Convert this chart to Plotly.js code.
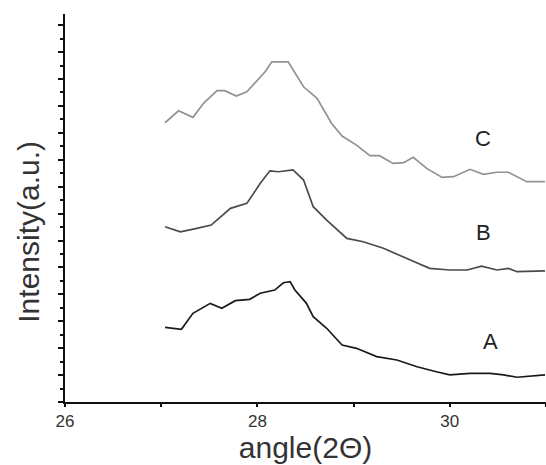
<!DOCTYPE html>
<html>
<head>
<meta charset="utf-8">
<script src="https://cdn.plot.ly/plotly-3.0.1.min.js"></script>
<style>html,body{margin:0;padding:0;background:#fff;}#chart{width:546px;height:465px;}</style>
</head>
<body>
<div id="chart"></div>
<script>
const xC = [27.04,27.18,27.33,27.44,27.58,27.66,27.78,27.89,28.08,28.15,28.32,28.48,28.62,28.77,28.88,29.03,29.17,29.27,29.41,29.52,29.62,29.76,29.92,30.04,30.21,30.35,30.49,30.61,30.80,30.99];
const yC = [20.75,21.64,21.15,22.19,23.13,23.13,22.73,23.05,24.54,25.28,25.28,23.42,22.56,20.71,19.76,19.09,18.30,18.30,17.73,17.78,18.18,17.36,16.69,16.74,17.29,16.92,17.07,17.07,16.37,16.37];

const xB = [27.04,27.20,27.37,27.52,27.72,27.89,28.03,28.13,28.22,28.37,28.48,28.58,28.72,28.93,29.10,29.31,29.59,29.79,30.00,30.18,30.33,30.49,30.61,30.70,30.99];
const yB = [13.02,12.65,12.90,13.15,14.39,14.76,16.25,17.18,17.11,17.24,16.49,14.51,13.52,12.16,11.91,11.42,10.55,9.93,9.81,9.81,10.10,9.81,9.93,9.68,9.75];

const xA = [27.04,27.21,27.33,27.51,27.63,27.77,27.92,28.03,28.18,28.27,28.34,28.39,28.51,28.58,28.72,28.88,29.03,29.24,29.45,29.66,29.86,30.00,30.21,30.42,30.56,30.70,30.99];
const yA = [5.55,5.40,6.59,7.33,6.96,7.53,7.63,8.08,8.32,8.86,8.94,8.32,7.33,6.34,5.48,4.23,3.99,3.37,3.12,2.62,2.25,2.01,2.13,2.13,2.01,1.84,2.01];

const seriesNames = ['A','B','C'];
const labelX = [30.42, 30.35, 30.35];
const labelY = [4.46, 12.56, 19.6];

const xTickVals = [26,27,28,29,30,31];
const xTickText = ['26','','28','','30',''];

const font = 'Liberation Sans, Arial, sans-serif';

const traces = [
  {x: xA, y: yA, name: 'A', mode: 'lines', line: {color: '#1a1a1a', width: 1.7}},
  {x: xB, y: yB, name: 'B', mode: 'lines', line: {color: '#4a4a4a', width: 1.7}},
  {x: xC, y: yC, name: 'C', mode: 'lines', line: {color: '#929292', width: 1.7}}
];

const annotations = seriesNames.map((n, i) => ({
  x: labelX[i], y: labelY[i], xref: 'x', yref: 'y', text: n, showarrow: false,
  font: {family: font, size: 22, color: '#222'}
}));
annotations.push({
  x: -0.076, y: 0.44, xref: 'paper', yref: 'paper', text: 'Intensity(a.u.)', textangle: -90,
  showarrow: false, xanchor: 'center', yanchor: 'middle',
  font: {family: font, size: 30, color: '#333'}
});

const layout = {
  width: 546, height: 465,
  margin: {l: 65, r: 0, t: 14, b: 63},
  paper_bgcolor: '#fff', plot_bgcolor: '#fff',
  showlegend: false,
  xaxis: {
    range: [26, 31], showgrid: false, zeroline: false,
    showline: true, linecolor: '#111', linewidth: 2,
    tickmode: 'array', tickvals: xTickVals, ticktext: xTickText,
    ticks: 'outside', ticklen: 3, tickwidth: 2, tickcolor: '#111',
    tickfont: {family: font, size: 17, color: '#333'},
    title: {text: 'angle(2Θ)', font: {family: font, size: 30, color: '#333'}, standoff: 6}
  },
  yaxis: {
    range: [0, 28.83], showgrid: false, zeroline: false,
    showline: true, linecolor: '#111', linewidth: 2,
    showticklabels: false,
    tickmode: 'linear', tick0: 0, dtick: 2,
    ticks: 'outside', ticklen: 5, tickwidth: 2, tickcolor: '#111',
    minor: {ticks: 'outside', ticklen: 3, tickwidth: 2, tickcolor: '#111', dtick: 1, tick0: 0, showgrid: false}
  },
  annotations: annotations
};

Plotly.newPlot('chart', traces, layout, {displayModeBar: false, staticPlot: true});
</script>
</body>
</html>
